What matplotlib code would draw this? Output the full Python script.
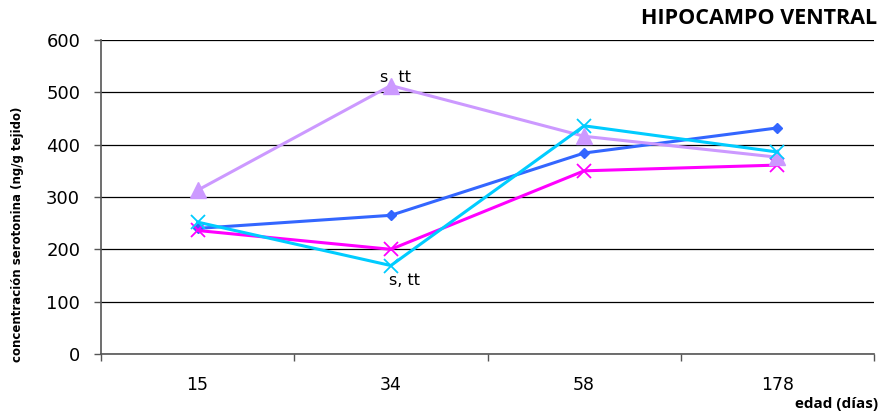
import matplotlib
matplotlib.use("Agg")
import matplotlib.pyplot as plt
import numpy as np

# Age groups (days) and serotonin concentration per series
edades = ["15", "34", "58", "178"]
serie_azul = [240, 265, 384, 432]
serie_magenta = [236, 200, 350, 361]
serie_cian = [252, 169, 436, 386]
serie_lila = [313, 513, 416, 376]
yticks = [0, 100, 200, 300, 400, 500, 600]
nota = "s, tt"

fig = plt.figure(figsize=(8.81, 4.16), dpi=100)
fig.patch.set_facecolor("white")
ax = fig.add_axes([101 / 881, 62 / 416, 773 / 881, 314 / 416])

x = np.arange(len(edades))

ax.plot(x, serie_azul, color="#3366FF", lw=2.2, marker="D", ms=5.5,
        mec="#3366FF", mfc="#3366FF", zorder=3)
ax.plot(x, serie_magenta, color="#FF00FF", lw=2.2, marker="x", ms=10,
        mew=1.3, zorder=3)
ax.plot(x, serie_lila, color="#CC99FF", lw=2.2, marker="^", ms=11,
        mec="#CC99FF", mfc="#CC99FF", zorder=3)
ax.plot(x, serie_cian, color="#00CCFF", lw=2.2, marker="x", ms=10,
        mew=1.3, zorder=4)

# significance notes at day 34
ax.annotate(nota, (x[1], serie_lila[1]), xytext=(3, 6),
            textcoords="offset points", ha="center", va="center",
            fontsize=11.5, family="DejaVu Sans", zorder=2)
ax.annotate(nota, (x[1], serie_cian[1]), xytext=(9.5, -11),
            textcoords="offset points", ha="center", va="center",
            fontsize=11.5, family="DejaVu Sans")

ax.set_xlim(-0.5, len(edades) - 0.5)
ax.set_ylim(0, 600)
ax.set_yticks(yticks)
ax.set_yticklabels([str(v) for v in yticks], fontsize=13, family="DejaVu Sans")
ax.set_xticks(x)
ax.set_xticklabels(edades, fontsize=12.5, family="DejaVu Sans")
ax.set_xticks(np.arange(-0.5, len(edades)), minor=True)
ax.tick_params(axis="x", which="major", length=0, pad=16)
ax.tick_params(axis="x", which="minor", length=5, width=1, color="#555555",
               direction="out")
ax.tick_params(axis="y", length=5, width=1, color="#555555", direction="out",
               pad=10)

ax.yaxis.grid(True, color="black", lw=0.9)
ax.set_axisbelow(True)
for side in ["top", "right"]:
    ax.spines[side].set_visible(False)
for side in ["left", "bottom"]:
    ax.spines[side].set_color("#555555")
    ax.spines[side].set_linewidth(1.2)

fig.text(877 / 881, 1 - 19 / 416, "HIPOCAMPO VENTRAL", ha="right",
         va="center", fontsize=15.5, fontweight="bold", family="Open Sans")
fig.text(878 / 881, 1 - 404 / 416, "edad (días)", ha="right", va="center",
         fontsize=11, fontweight="bold", family="Open Sans")
fig.text(18 / 881, 1 - 234 / 416, "concentración serotonina (ng/g tejido)",
         rotation=90, ha="center", va="center", fontsize=8.5,
         fontweight="bold", family=["Liberation Sans Narrow", "DejaVu Sans"])

fig.savefig("out.png", dpi=100, facecolor="white")
